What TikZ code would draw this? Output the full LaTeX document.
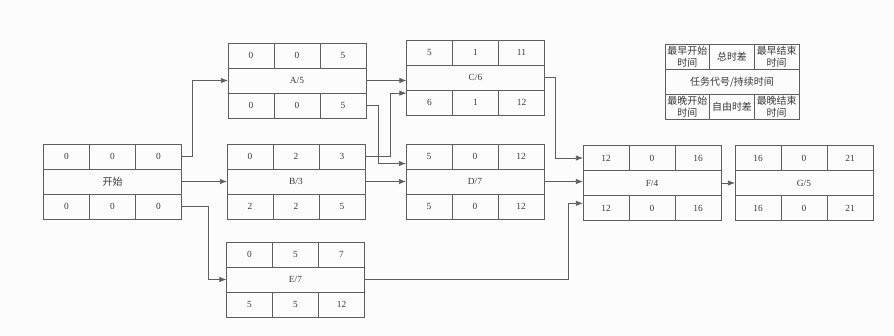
\documentclass[tikz,border=0pt]{standalone}
\usepackage{fontspec}
\setmainfont{Liberation Serif}
\newfontfamily\cjk{Noto Sans CJK SC}
\usetikzlibrary{arrows.meta,positioning}
\definecolor{frame}{HTML}{5E5E5E}
\definecolor{ink}{HTML}{3A3A3A}
\definecolor{paper}{HTML}{FCFCFC}
% one activity box: name, centre, label, ES TF EF / LS FF LF
\newcommand{\taskbox}[9]{%
  \node[mid] (#1) at (#2) {#3};
  \node[cell, above=0pt of #1] (#1tf) {#5};
  \node[cell, left=0pt of #1tf] (#1es) {#4};
  \node[cell, right=0pt of #1tf] (#1ef) {#6};
  \node[cell, below=0pt of #1] (#1ff) {#8};
  \node[cell, left=0pt of #1ff] (#1ls) {#7};
  \node[cell, right=0pt of #1ff] (#1lf) {#9};
}

\begin{document}
\begin{tikzpicture}[
  x=0.03cm, y=-0.03cm,
  >=Latex,
  link/.style={-{Latex[length=6pt,width=4.5pt]}, line width=0.6pt, draw=frame},
  cell/.style={draw=frame, line width=0.6pt, minimum width=1.38cm, minimum height=0.75cm,
               inner sep=0pt, outer sep=0pt, align=center, text=ink,
               font=\fontsize{8}{9}\selectfont},
  mid/.style={cell, minimum width=4.14cm},
  key/.style={font=\cjk\fontsize{8.5}{10}\selectfont}
]
\useasboundingbox[fill=paper] (0,0) rectangle (894,336);

% activities
\taskbox{start}{112.5,181.5}{{\cjk\fontsize{8.5}{9}\selectfont 开始}}{0}{0}{0}{0}{0}{0}
\taskbox{A}{297,80.5}{A/5}{0}{0}{5}{0}{0}{5}
\taskbox{B}{296,181.5}{B/3}{0}{2}{3}{2}{2}{5}
\taskbox{E}{295.5,279.5}{E/7}{0}{5}{7}{5}{5}{12}
\taskbox{C}{475.5,77.5}{C/6}{5}{1}{11}{6}{1}{12}
\taskbox{D}{475,181.5}{D/7}{5}{0}{12}{5}{0}{12}
\taskbox{F}{652,183}{F/4}{12}{0}{16}{12}{0}{16}
\taskbox{G}{804,183}{G/5}{16}{0}{21}{16}{0}{21}

% legend
\begin{scope}[cell/.append style={minimum width=1.34cm, key}, mid/.append style={minimum width=4.02cm}]
\taskbox{legend}{732,82}{任务代号/持续时间}{最早开始\\时间}{总时差}{最早结束\\时间}{最晚开始\\时间}{自由时差}{最晚结束\\时间}
\end{scope}

% precedence links
\draw[link] (startef.east) -- ++(11,0) |- (A.west);
\draw[link] (start) -- (B);
\draw[link] (startlf.east) -- ++(26.5,0) |- (E.west);
\draw[link] (A.east) -- (A.east -| C.west);
\draw[link] (Alf.east) -- ++(12,0) |- ([yshift=-6pt]Des.west);
\draw[link] (Bef.east) -- ++(25,0) |- ([yshift=8pt]Cls.west);
\draw[link] (B) -- (D);
\draw[link] (C.east) -- ++(10.5,0) |- (Fes.west);
\draw[link] (D.east) -- (D.east -| F.west);
\draw[link] (E.east) -- ++(203.5,0) |- ([yshift=4pt]Fls.west);
\draw[link] (F) -- (G);

\end{tikzpicture}
\end{document}
